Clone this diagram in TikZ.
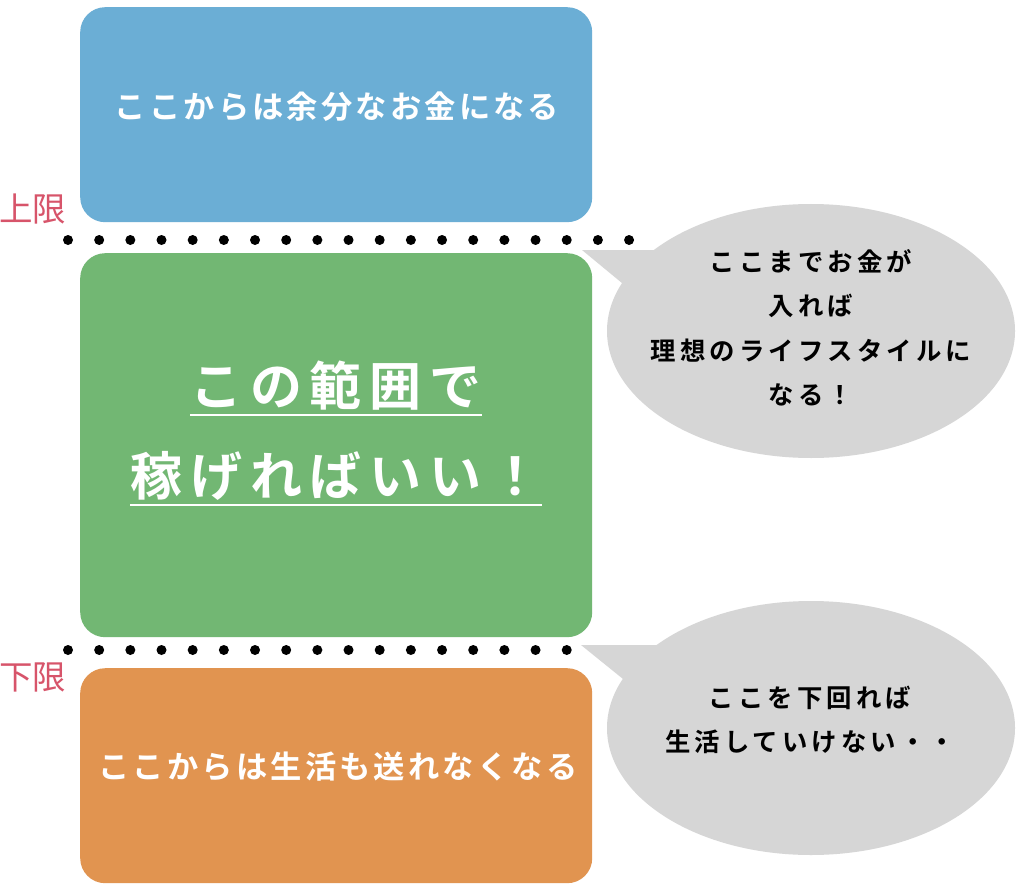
\documentclass[tikz,border=0pt]{standalone}
\usepackage{fontspec}
\usetikzlibrary{shapes.geometric}
\newfontfamily\jpbox[LetterSpace=10]{Noto Sans CJK JP Bold}
\newfontfamily\jpbubble[LetterSpace=16]{Noto Sans CJK JP Bold}
\newfontfamily\jpbig[LetterSpace=15]{Noto Sans CJK JP Bold}
\newfontfamily\jplabel{Noto Sans CJK JP}
\definecolor{bandblue}{RGB}{107,174,213}
\definecolor{bandgreen}{RGB}{114,183,115}
\definecolor{bandorange}{RGB}{225,148,80}
\definecolor{limitred}{RGB}{215,84,106}
\definecolor{bubblegray}{RGB}{214,214,214}
\begin{document}
\begin{tikzpicture}[x=1pt,y=-1pt]
\useasboundingbox (0,0) rectangle (1024,893);
\fill[white] (0,0) rectangle (1024,893);
\tikzset{
  band/.style={rounded corners=25pt, minimum width=512pt, inner sep=0pt, anchor=north west},
  bandtext/.style={font=\jpbox\fontsize{31.3}{36}\selectfont, text=white, inner sep=0pt},
  bigtext/.style={font=\jpbig\fontsize{52}{60}\selectfont, text=white, inner sep=0pt},
  underline/.style={white, line width=2.5pt},
  dotrow/.style={line width=10pt, line cap=round, dash pattern=on 0pt off 31.17pt},
  bubble/.style={ellipse, fill=bubblegray, minimum width=408pt, minimum height=254pt, inner sep=0pt},
  bubbletext/.style={font=\jpbubble\fontsize{25.4}{44.5}\selectfont, align=center, text=black, inner sep=0pt},
  limitlabel/.style={text=limitred, anchor=west, inner sep=0pt, font=\jplabel\fontsize{33.5}{34}\selectfont}
}
% bands
\node[band, fill=bandblue, minimum height=215pt] (upper) at (80,7) {};
\node[band, fill=bandgreen, minimum height=384pt] (middle) at (80,253) {};
\node[band, fill=bandorange, minimum height=215pt] (lower) at (80,668) {};
\node[bandtext] (uppertext) at (337,107) {ここからは余分なお金になる};
\node[bandtext] (lowertext) at (338,767) {ここからは生活も送れなくなる};
\node[bigtext] (rangeA) at (336,386) {この範囲で};
\node[bigtext] (rangeB) at (336,476) {稼げればいい！};
\draw[underline] ([yshift=-4pt]rangeA.south west) -- ([yshift=-4pt]rangeA.south east);
\draw[underline] ([yshift=-4pt]rangeB.south west) -- ([yshift=-4pt]rangeB.south east);
% limit labels
\node[limitlabel] (upperlimit) at (-1,209) {上限};
\node[limitlabel] (lowerlimit) at (-1,677) {下限};
% dotted limits
\coordinate (topstart) at (68,240);
\coordinate (topend) at (630,240);
\coordinate (botstart) at (68,650);
\coordinate (botend) at (630,650);
\draw[dotrow] (topstart) -- (topend);
\draw[dotrow] (botstart) -- (botend);
% bubbles
\node[bubble] (bubbleA) at (811,331) {};
\coordinate (tipA) at (582,250);
\fill[bubblegray] (tipA) -- (662,250) -- (628,288) -- cycle;
\node[bubbletext] (bubbleAtext) at (811,328) {ここまでお金が\\入れば\\理想のライフスタイルに\\なる！};
\node[bubble] (bubbleB) at (811,728) {};
\coordinate (tipB) at (581,645);
\fill[bubblegray] (tipB) -- (662,645) -- (628,683) -- cycle;
\node[bubbletext] (bubbleBtext) at (810,720) {ここを下回れば\\生活していけない・・};
\end{tikzpicture}
\end{document}
